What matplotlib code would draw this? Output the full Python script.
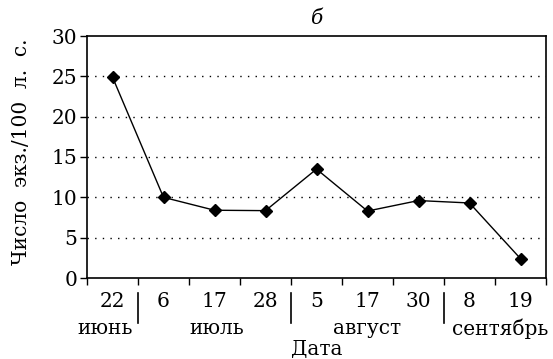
import matplotlib
matplotlib.use("Agg")
import matplotlib.pyplot as plt
from matplotlib.ticker import FixedLocator, NullFormatter

days = ["22", "6", "17", "28", "5", "17", "30", "8", "19"]
values = [24.9, 10.0, 8.4, 8.35, 13.5, 8.3, 9.6, 9.3, 2.4]
months = ["июнь", "июль", "август", "сентябрь"]
month_pos = [-0.15, 2.05, 5.0, 7.6]
month_breaks = [0.5, 3.5, 6.5]
yticks = [0, 5, 10, 15, 20, 25, 30]

FS = 14.5
plt.rcParams['font.family'] = ['DejaVu Serif']
fig = plt.figure(figsize=(5.53, 3.59), dpi=100)
ax = fig.add_axes([87/553, 1 - 278/359, (546-87)/553, (278-36)/359])

x = list(range(len(days)))
ax.plot(x, values, color='black', lw=1.0, marker='D', markersize=6.5)

ax.set_xlim(-0.5, len(days) - 0.5)
ax.set_ylim(0, 30)
ax.set_yticks(yticks)
ax.set_yticklabels([str(v) for v in yticks], fontsize=FS)
ax.set_xticks(x)
ax.set_xticklabels(days, fontsize=FS)
ax.tick_params(axis='x', which='major', length=0, pad=10)
ax.xaxis.set_minor_locator(FixedLocator([i + 0.5 for i in range(-1, len(days))]))
ax.xaxis.set_minor_formatter(NullFormatter())
ax.tick_params(axis='x', which='minor', length=5, width=1, direction='out')
ax.tick_params(axis='y', length=5, width=1, direction='out', pad=2)

for v in yticks[1:-1]:
    ax.axhline(v, color='black', lw=1.0, ls=(0, (1, 4.5)))

for s in ax.spines.values():
    s.set_linewidth(1.2)

for b in month_breaks:
    ax.plot([b, b], [-0.06, -0.186], transform=ax.get_xaxis_transform(),
            color='black', lw=1.2, clip_on=False)

for m, p in zip(months, month_pos):
    ax.text(p, -0.21, m, transform=ax.get_xaxis_transform(), ha='center',
            va='center', fontsize=FS)

ax.text(0.5, -0.295, "Дата", transform=ax.transAxes, ha='center', va='center', fontsize=FS)
ax.set_title("б", fontsize=FS, style='italic', pad=9)
fig.text(22/553, 1 - 152/359, "Число  экз./100  л.  с.", rotation=90, ha='center', va='center', fontsize=FS)

fig.savefig("out.png", dpi=100)
